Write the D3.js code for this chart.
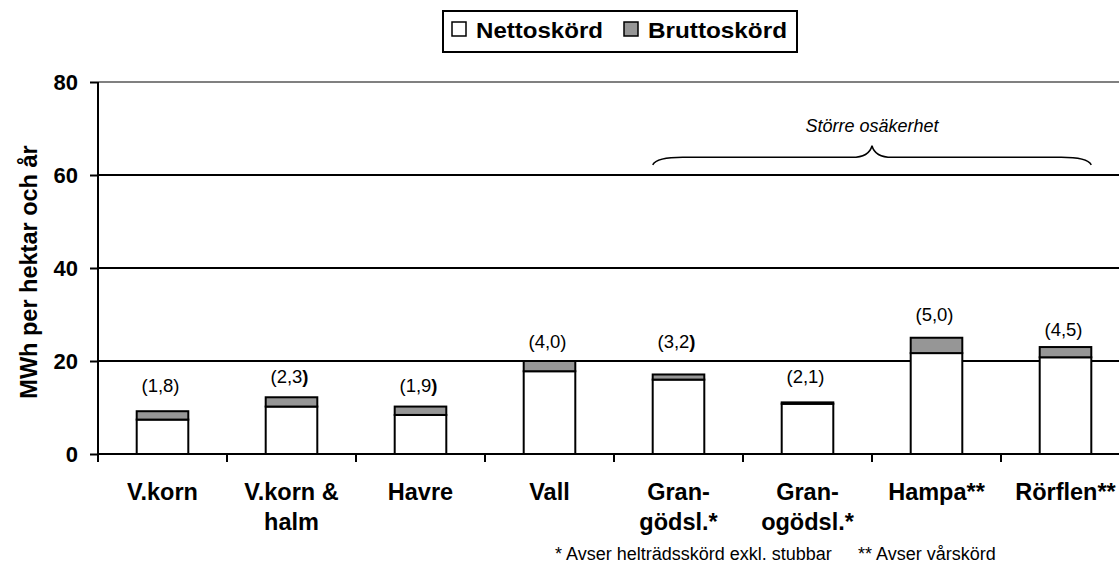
<!DOCTYPE html>
<html>
<head>
<meta charset="utf-8">
<script src="https://cdn.jsdelivr.net/npm/d3@7/dist/d3.min.js"></script>
<style>
  html, body { margin: 0; padding: 0; background: #fff; }
  svg { display: block; font-family: "Liberation Sans", Arial, Helvetica, sans-serif; }
</style>
</head>
<body>
<svg id="chart" width="1119" height="567"></svg>
<script>
// ---- data ----
const categories = [["V.korn"], ["V.korn &", "halm"], ["Havre"], ["Vall"], ["Gran-", "gödsl.*"], ["Gran-", "ogödsl.*"], ["Hampa**"], ["Rörflen**"]];
const nettoskord = [7.4, 10.2, 8.4, 17.8, 16.0, 10.8, 21.7, 20.8];
const bruttoskord = [9.2, 12.2, 10.2, 20.0, 17.1, 11.1, 25.0, 23.0];
const barLabels = ["(1,8", "(2,3", "(1,9", "(4,0", "(3,2", "(2,1", "(5,0", "(4,5"];
const boldParen = [false, true, true, false, true, false, false, false];
const barLabelValue = [13.3, 15.3, 13.3, 22.8, 22.8, 15.3, 28.6, 25.4];
const yTicks = [0, 20, 40, 60, 80];
const seriesNames = ["Nettoskörd", "Bruttoskörd"];
const uncertainRange = [4, 7];
const uncertainText = "Större osäkerhet";
const footnotes = ["* Avser helträdsskörd exkl. stubbar", "** Avser vårskörd"];
const yTitle = "MWh per hektar och år";

// ---- layout ----
const svg = d3.select("#chart");
const mLeft = 98, mTop = 82, mBottom = 454, step = 129;
const keys = categories.map((c, i) => i);
const x = d3.scaleBand().domain(keys).range([mLeft, mLeft + step * categories.length]).padding(0);
const y = d3.scaleLinear().domain([0, 80]).range([mBottom, mTop]);
const barW = x.bandwidth() * 0.4;
const grey = "#969696";

// gridlines
svg.append("g").selectAll("line").data(yTicks.filter(t => t > 0)).join("line")
  .attr("x1", mLeft).attr("x2", 1119)
  .attr("y1", d => y(d)).attr("y2", d => y(d))
  .attr("stroke", d => d === 80 ? "#808080" : "#000").attr("stroke-width", 2);

// y axis
const yAxis = svg.append("g").attr("transform", `translate(${mLeft},0)`)
  .call(d3.axisLeft(y).tickValues(yTicks).tickSize(8).tickPadding(12));
yAxis.select(".domain").attr("stroke", "#000").attr("stroke-width", 2).attr("d", `M-0,${y(80)}V${y(0)}`);
yAxis.selectAll(".tick line").attr("stroke", "#000").attr("stroke-width", 2);
yAxis.selectAll(".tick text").attr("font-size", 22).attr("font-weight", "bold").attr("fill", "#000")
  .attr("font-family", "'Liberation Sans', Arial, sans-serif");

// y title
svg.append("text").attr("transform", `translate(37,${(y(0)+y(80))/2 + 4}) rotate(-90)`)
  .attr("text-anchor", "middle").attr("font-size", 23.5).attr("font-weight", "bold").text(yTitle);

// bars
const bars = svg.append("g");
bars.selectAll("rect.net").data(keys).join("rect").attr("class", "net")
  .attr("x", i => x(i) + (x.bandwidth() - barW) / 2).attr("width", barW)
  .attr("y", i => y(nettoskord[i])).attr("height", i => y(0) - y(nettoskord[i]))
  .attr("fill", "#fff").attr("stroke", "#000").attr("stroke-width", 2);
bars.selectAll("rect.gross").data(keys).join("rect").attr("class", "gross")
  .attr("x", i => x(i) + (x.bandwidth() - barW) / 2).attr("width", barW)
  .attr("y", i => y(bruttoskord[i])).attr("height", i => y(nettoskord[i]) - y(bruttoskord[i]))
  .attr("fill", grey).attr("stroke", "#000").attr("stroke-width", 2);

// x axis
svg.append("line").attr("x1", mLeft).attr("x2", 1119).attr("y1", y(0)).attr("y2", y(0))
  .attr("stroke", "#000").attr("stroke-width", 2);
svg.append("g").selectAll("line").data(d3.range(categories.length + 1)).join("line")
  .attr("x1", i => mLeft + i * step).attr("x2", i => mLeft + i * step)
  .attr("y1", y(0)).attr("y2", y(0) + 8).attr("stroke", "#000").attr("stroke-width", 2);

// category labels
const cl = svg.append("g").selectAll("text").data(keys).join("text")
  .attr("text-anchor", "middle").attr("font-size", 23.5).attr("font-weight", "bold")
  .attr("x", i => x(i) + x.bandwidth() / 2).attr("y", 500);
cl.each(function(i) {
  const t = d3.select(this);
  categories[i].forEach((line, k) => {
    t.append("tspan").attr("x", x(i) + x.bandwidth() / 2).attr("dy", k === 0 ? 0 : 30).text(line);
  });
});

// bar value labels
const vl = svg.append("g").selectAll("text").data(keys).join("text")
  .attr("text-anchor", "middle").attr("font-size", 18.5)
  .attr("x", i => x(i) + x.bandwidth() / 2 - 2).attr("y", i => y(barLabelValue[i]));
vl.each(function(i) {
  const t = d3.select(this);
  t.append("tspan").text(barLabels[i]);
  t.append("tspan").attr("font-weight", boldParen[i] ? "bold" : "normal").text(")");
});

// brace
const bx0 = x(uncertainRange[0]) + (x.bandwidth() - barW) / 2;
const bx1 = x(uncertainRange[1]) + (x.bandwidth() + barW) / 2;
const bxm = (bx0 + bx1) / 2;
const yEnd = y(62.2), yMid = y(63.8), yTip = y(66.3);
const p = d3.path();
p.moveTo(bx0, yEnd);
p.quadraticCurveTo(bx0 + 4, yMid, bx0 + 30, yMid);
p.lineTo(bxm - 20, yMid);
p.quadraticCurveTo(bxm - 3, yMid, bxm, yTip);
p.quadraticCurveTo(bxm + 3, yMid, bxm + 20, yMid);
p.lineTo(bx1 - 30, yMid);
p.quadraticCurveTo(bx1 - 4, yMid, bx1, yEnd);
svg.append("path").attr("d", p.toString()).attr("fill", "none").attr("stroke", "#000").attr("stroke-width", 1.5);
svg.append("text").attr("x", bxm).attr("y", y(69.2)).attr("text-anchor", "middle")
  .attr("font-size", 18).attr("font-style", "italic").text(uncertainText);

// footnotes
svg.append("text").attr("x", 555).attr("y", 560).attr("font-size", 18).text(footnotes[0]);
svg.append("text").attr("x", 858).attr("y", 560).attr("font-size", 18).text(footnotes[1]);

// legend
const lg = svg.append("g");
lg.append("rect").attr("x", 443).attr("y", 11).attr("width", 354).attr("height", 41)
  .attr("fill", "#fff").attr("stroke", "#000").attr("stroke-width", 2);
const legendFill = ["#fff", grey];
const legendX = [452, 624];
const legendLen = [127, 139];
seriesNames.forEach((n, k) => {
  lg.append("rect").attr("x", legendX[k]).attr("y", 22).attr("width", 14).attr("height", 14)
    .attr("fill", legendFill[k]).attr("stroke", "#000").attr("stroke-width", 1.5);
  lg.append("text").attr("x", legendX[k] + 24).attr("y", 38).attr("font-size", 21.5)
    .attr("font-weight", "bold").attr("textLength", legendLen[k])
    .attr("lengthAdjust", "spacingAndGlyphs").text(n);
});
</script>
</body>
</html>
